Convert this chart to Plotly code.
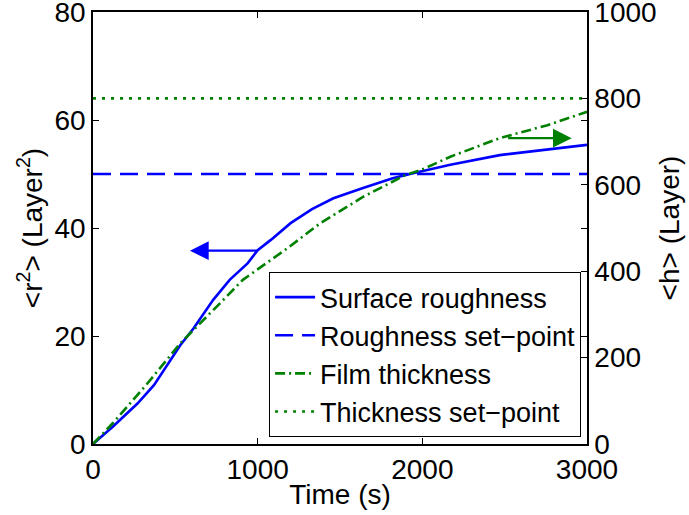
import plotly.graph_objects as go

# Surface roughness (left axis, Layer^2)
rough_t = [0, 120, 270, 370, 530, 610, 730, 830, 940, 1000, 1080, 1200, 1330, 1460,
           1640, 1820, 1950, 2170, 2470, 2710, 3000]
rough_v = [0, 3.2, 7.5, 10.9, 18.3, 21.4, 26.7, 30.4, 33.5, 35.9, 37.8, 40.9, 43.5, 45.5,
           47.4, 49.2, 50.2, 51.7, 53.5, 54.4, 55.4]
rough_setpoint = 50

# Film thickness (right axis, Layer)
thick_t = [0, 120, 330, 530, 790, 910, 1180, 1380, 1640, 1900, 1990, 2170, 2470, 2760, 3000]
thick_v = [0, 48, 140, 233, 333, 380, 453, 511, 572, 623, 634, 665, 708, 738, 769]
thick_setpoint = 800

t_range = [0, 3000]
x_ticks = [0, 1000, 2000, 3000]
y1_ticks = [0, 20, 40, 60, 80]
y2_ticks = [0, 200, 400, 600, 800, 1000]

# arrow annotations (data coords)
blue_arrow = dict(tail=1004, head=589, level=35.8)
green_arrow = dict(tail=2512, head=2907, level=708)

FONT = "Liberation Sans, Arial, Helvetica, sans-serif"
FS = 28

fig = go.Figure()
fig.add_trace(go.Scatter(x=rough_t, y=rough_v, mode="lines", name="Surface roughness",
                         line=dict(color="#0000ff", width=2.6)))
fig.add_trace(go.Scatter(x=t_range, y=[rough_setpoint] * 2, mode="lines", name="Roughness set\u2212point",
                         line=dict(color="#0000ff", width=2.6, dash="18px,9px")))
fig.add_trace(go.Scatter(x=thick_t, y=thick_v, mode="lines", name="Film thickness", yaxis="y2",
                         line=dict(color="#008000", width=2.6, dash="10px,4px,2px,4px")))
fig.add_trace(go.Scatter(x=t_range, y=[thick_setpoint] * 2, mode="lines", name="Thickness set\u2212point",
                         yaxis="y2", line=dict(color="#008000", width=2.6, dash="3px,6px")))

fig.add_annotation(x=blue_arrow["head"], y=blue_arrow["level"], ax=blue_arrow["tail"], ay=blue_arrow["level"],
                   xref="x", yref="y", axref="x", ayref="y", text="", showarrow=True,
                   arrowhead=2, arrowsize=1.7, arrowwidth=2.2, arrowcolor="#0000ff")
fig.add_annotation(x=green_arrow["head"], y=green_arrow["level"], ax=green_arrow["tail"], ay=green_arrow["level"],
                   xref="x", yref="y2", axref="x", ayref="y2", text="", showarrow=True,
                   arrowhead=2, arrowsize=1.7, arrowwidth=2.2, arrowcolor="#008000")

axis_common = dict(showgrid=False, zeroline=False, showline=True, linecolor="black", linewidth=1.5,
                   ticks="inside", ticklen=6, tickwidth=1.2, tickcolor="black",
                   ticklabeloverflow="allow", automargin=False,
                   tickfont=dict(family=FONT, size=FS, color="black"))

fig.update_layout(
    width=689, height=515,
    margin=dict(l=93, r=102, t=12, b=71, autoexpand=False),
    paper_bgcolor="white", plot_bgcolor="white",
    font=dict(family=FONT, size=FS, color="black"),
    xaxis=dict(range=t_range, tickvals=x_ticks, mirror="ticks",
               title=dict(text="Time (s)", font=dict(family=FONT, size=FS), standoff=0), **axis_common),
    yaxis=dict(range=[0, 80], tickvals=y1_ticks, mirror="ticks",
               title=dict(text="&lt;r<sup>2</sup>&gt; (Layer<sup>2</sup>)", font=dict(family=FONT, size=FS), standoff=4),
               **axis_common),
    yaxis2=dict(range=[0, 1000], tickvals=y2_ticks, overlaying="y", side="right", anchor="x",
                title=dict(text="&lt;h&gt; (Layer)", font=dict(family=FONT, size=FS), standoff=4),
                **axis_common),
    legend=dict(x=0.988, y=0.016, xanchor="right", yanchor="bottom",
                bgcolor="white", bordercolor="black", borderwidth=1,
                font=dict(family=FONT, size=27, color="black"),
                itemwidth=40, tracegroupgap=0),
    showlegend=True,
)

fig.write_html("out.html")
